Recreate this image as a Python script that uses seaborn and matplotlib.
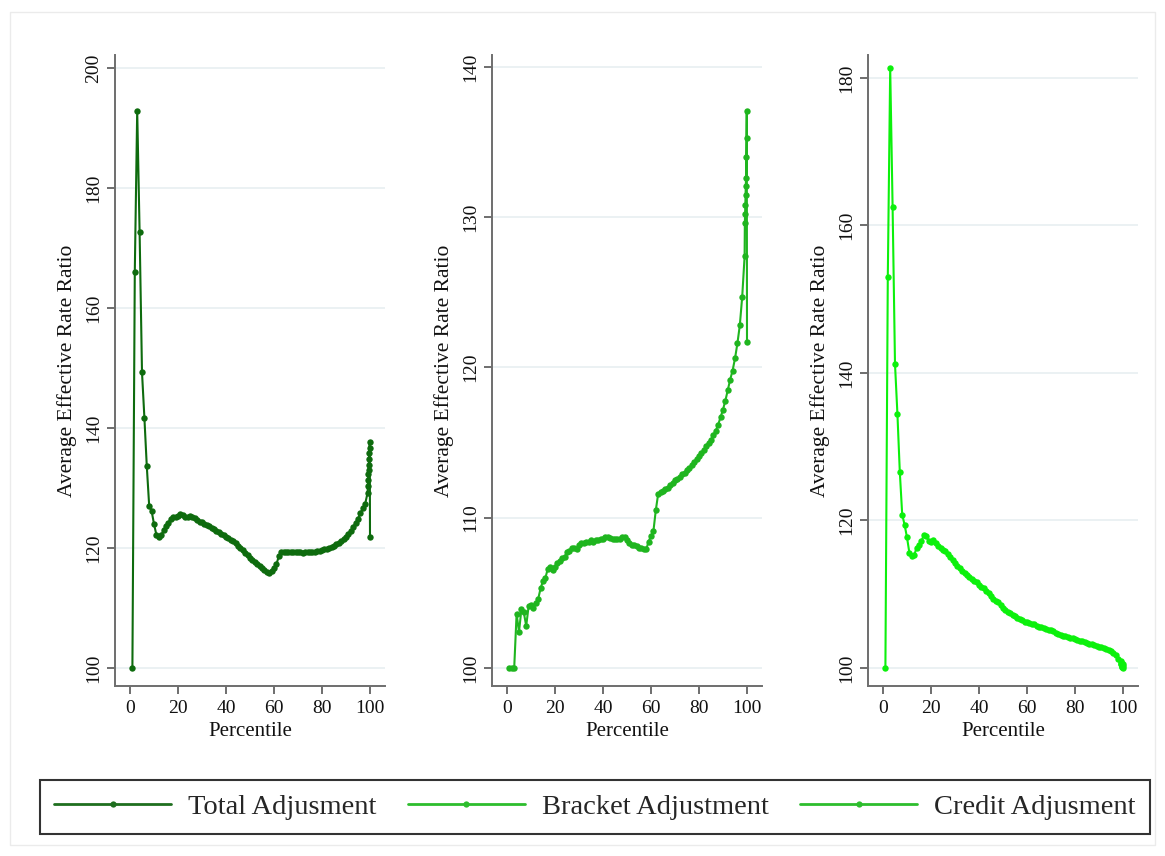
import numpy as np
import pandas as pd
import matplotlib
matplotlib.use("Agg")
import matplotlib.pyplot as plt
from matplotlib.lines import Line2D
from matplotlib.patches import Rectangle
import seaborn as sns

# Percentile grid: 1..99, the top percentile split into tenths, then 100
percentile = list(range(1, 100)) + [99.1, 99.2, 99.3, 99.4, 99.5, 99.6, 99.7, 99.8, 99.9, 100]

total_adj = [
    100.0, 166.1, 192.9, 172.7, 149.3, 141.7, 133.6, 127.0, 126.2, 124.0,
    122.2, 121.9, 122.1, 123.0, 123.6, 124.2, 124.9, 125.2, 125.1, 125.3,
    125.7, 125.5, 125.2, 125.1, 125.3, 125.2, 125.0, 124.7, 124.4, 124.3,
    124.0, 123.8, 123.6, 123.4, 123.1, 122.9, 122.7, 122.4, 122.2, 121.9,
    121.7, 121.4, 121.2, 120.8, 120.4, 120.0, 119.6, 119.2, 118.8, 118.4,
    118.0, 117.7, 117.3, 117.0, 116.7, 116.4, 116.0, 115.8, 116.2, 116.6,
    117.3, 118.6, 119.3, 119.3, 119.4, 119.3, 119.4, 119.4, 119.3, 119.4,
    119.3, 119.2, 119.4, 119.3, 119.3, 119.4, 119.3, 119.5, 119.5, 119.6,
    119.8, 119.9, 120.0, 120.2, 120.4, 120.6, 120.9, 121.2, 121.5, 121.9,
    122.4, 122.9, 123.5, 124.2, 124.9, 125.8, 126.6, 127.4, 129.2,
    130.4, 131.4, 132.3, 133.0, 133.8, 134.8, 135.9, 136.6, 137.7, 121.9,
]

bracket_adj = [
    100.0, 100.0, 100.0, 103.6, 102.4, 103.9, 103.7, 102.8, 104.1, 104.2,
    104.0, 104.3, 104.6, 105.3, 105.8, 106.0, 106.6, 106.7, 106.5, 106.7,
    107.0, 107.1, 107.3, 107.4, 107.7, 107.8, 108.0, 108.0, 107.9, 108.2,
    108.3, 108.3, 108.4, 108.4, 108.5, 108.4, 108.5, 108.5, 108.6, 108.6,
    108.7, 108.7, 108.65, 108.6, 108.6, 108.6, 108.6, 108.7, 108.7, 108.5,
    108.3, 108.2, 108.2, 108.1, 108.0, 108.0, 107.9, 107.9, 108.4, 108.8,
    109.1, 110.5, 111.6, 111.7, 111.8, 111.9, 112.0, 112.2, 112.3, 112.5,
    112.6, 112.7, 112.9, 113.0, 113.2, 113.3, 113.5, 113.7, 113.9, 114.1,
    114.3, 114.5, 114.8, 115.0, 115.2, 115.5, 115.8, 116.2, 116.7, 117.2,
    117.8, 118.5, 119.2, 119.8, 120.6, 121.6, 122.8, 124.7, 127.4,
    129.6, 130.2, 130.8, 131.5, 132.1, 132.6, 134.0, 135.3, 137.1, 121.7,
]

credit_adj = [
    100.0, 153.0, 181.3, 162.5, 141.2, 134.5, 126.6, 120.8, 119.4, 117.7,
    115.6, 115.2, 115.3, 116.3, 116.7, 117.2, 118.0, 117.9, 117.2, 117.1,
    117.3, 116.9, 116.6, 116.3, 116.0, 115.8, 115.4, 115.0, 114.6, 114.2,
    113.8, 113.5, 113.2, 112.9, 112.6, 112.3, 112.1, 111.8, 111.6, 111.3,
    111.0, 110.8, 110.5, 110.1, 109.7, 109.4, 109.1, 108.9, 108.6, 108.2,
    107.8, 107.6, 107.4, 107.2, 107.0, 106.8, 106.7, 106.5, 106.3, 106.2,
    106.1, 106.0, 105.9, 105.7, 105.6, 105.5, 105.4, 105.3, 105.2, 105.1,
    105.0, 104.8, 104.6, 104.5, 104.4, 104.3, 104.2, 104.1, 104.0, 103.9,
    103.8, 103.7, 103.6, 103.5, 103.4, 103.3, 103.2, 103.1, 103.0, 102.9,
    102.8, 102.7, 102.6, 102.4, 102.3, 102.0, 101.7, 101.2, 100.9,
    100.8, 100.6, 100.5, 100.3, 100.2, 100.4, 100.1, 100.3, 100.5, 100.0,
]

series_names = ["Total Adjusment", "Bracket Adjustment", "Credit Adjusment"]
series_values = [total_adj, bracket_adj, credit_adj]
line_colors = ["#0e6b0e", "#1fb51f", "#0cf00c"]
legend_colors = ["#1f6f1f", "#2dbd2d", "#2dbd2d"]
y_ticks = [[100, 120, 140, 160, 180, 200],
           [100, 110, 120, 130, 140],
           [100, 120, 140, 160, 180]]
y_limits = [(97.0, 202.2), (98.8, 140.8), (97.56, 183.1)]
x_ticks = [0, 20, 40, 60, 80, 100]

frame = pd.concat(
    [pd.DataFrame({"Percentile": percentile, "ratio": vals, "series": name})
     for name, vals in zip(series_names, series_values)],
    ignore_index=True,
)

sns.set_theme(style="white")
plt.rcParams["font.family"] = ["Liberation Serif", "DejaVu Serif"]

W, H = 1165, 856
fig = plt.figure(figsize=(W / 100, H / 100), dpi=100)
fig.patch.set_facecolor("white")

lefts = [115, 492, 868]
ax_w, ax_top, ax_bot = 270, 55, 686

spine_col = "#6e6e6e"
for i, name in enumerate(series_names):
    ax = fig.add_axes([lefts[i] / W, 1 - ax_bot / H, ax_w / W, (ax_bot - ax_top) / H])
    sub = frame[frame["series"] == name]
    sns.lineplot(data=sub, x="Percentile", y="ratio", ax=ax, color=line_colors[i],
                 marker="o", markersize=4.6, markeredgewidth=0, linewidth=1.5,
                 estimator=None, sort=False, legend=False)
    ax.set_xlim(-6.25, 106.25)
    ax.set_ylim(*y_limits[i])
    ax.set_xticks(x_ticks)
    ax.set_yticks(y_ticks[i])
    ax.set_yticklabels([str(t) for t in y_ticks[i]], rotation=90, va="center")
    for t in y_ticks[i]:
        ax.axhline(t, color="#e6eef0", lw=1.1, zorder=0)
    ax.grid(False)
    for s in ["top", "right"]:
        ax.spines[s].set_visible(False)
    for s in ["left", "bottom"]:
        ax.spines[s].set_color(spine_col)
        ax.spines[s].set_linewidth(1.4)
    ax.tick_params(axis="both", which="major", direction="out", length=6, width=1.2,
                   color="#555555", labelsize=14, labelcolor="#111111", pad=3, left=True, bottom=True)
    ax.tick_params(axis="x", pad=4)
    ax.set_xlabel("Percentile", fontsize=15, labelpad=4, color="#111111")
    ax.set_ylabel("Average Effective Rate Ratio", fontsize=15.5, labelpad=6, color="#111111")
    ax.set_facecolor("white")

# key lines with a single marker in the middle
handles = []
for c in legend_colors:
    h = Line2D([0, 0.5, 1], [0, 0, 0], color=c, lw=2.0, marker="o", markersize=4.5,
               markevery=[1], markeredgewidth=0)
    handles.append(h)

leg = fig.legend(handles, series_names, loc="center", ncol=3, mode="expand",
                 bbox_to_anchor=(40 / W, 1 - 833 / H, 1110 / W, 52 / H),
                 fontsize=20.5, handlelength=4.1, handletextpad=0.6, columnspacing=1.0,
                 frameon=True, fancybox=False, edgecolor="black", borderpad=0.5,
                 borderaxespad=0)
leg.get_frame().set_linewidth(1.5)

fig.add_artist(Rectangle((10 / W, 1 - 845 / H), 1145 / W, 833 / H, transform=fig.transFigure,
                         fill=False, edgecolor="#ebebeb", lw=1))

fig.savefig("out.png", dpi=100, facecolor="white")
